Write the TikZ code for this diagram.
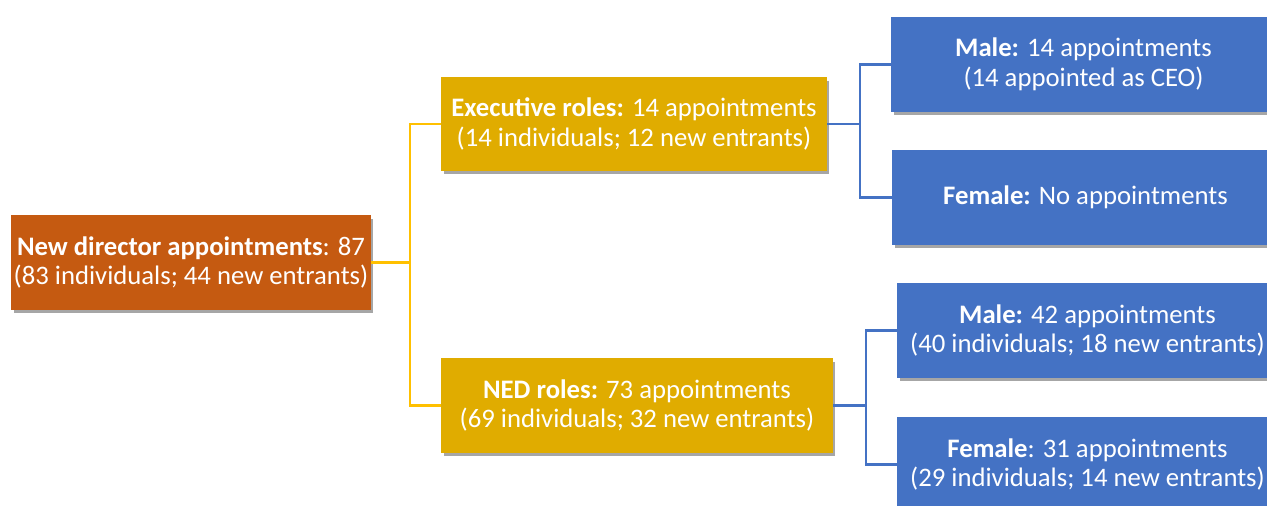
\documentclass[tikz,border=0pt]{standalone}
\usepackage{fontspec}
\setmainfont{Carlito}
\usetikzlibrary{shadows}

\definecolor{rootfill}{HTML}{C55A11}
\definecolor{rolefill}{HTML}{E0AC00}
\definecolor{rolewire}{HTML}{FFC000}
\definecolor{sexfill}{HTML}{4472C4}

\tikzset{
  box/.style={rectangle, inner sep=0pt, align=center, text=white,
    font=\fontsize{15.2}{17}\selectfont,
    drop shadow={shadow xshift=0.05cm, shadow yshift=-0.07cm, opacity=0.35, fill=black}},
  rootbox/.style={box, fill=rootfill},
  rolebox/.style={box, fill=rolefill},
  sexbox/.style={box, fill=sexfill},
  wire/.style={line width=1.3pt},
}

\begin{document}
\begin{tikzpicture}[x=0.02cm, y=-0.02cm]
  \useasboundingbox (0,0) rectangle (1267,506);

  \node[rootbox, minimum width=7.2cm, minimum height=1.9cm] (total) at (191,262.5)
    {\textbf{New director appointments}: 87\\(83 individuals; 44 new entrants)};

  \node[rolebox, minimum width=7.72cm, minimum height=1.88cm] (exec) at (634,124)
    {\textbf{Executive roles:} 14 appointments\\(14 individuals; 12 new entrants)};
  \node[rolebox, minimum width=7.84cm, minimum height=1.9cm] (ned) at (637,405.5)
    {\textbf{NED roles:} 73 appointments\\(69 individuals; 32 new entrants)};

  \node[sexbox, minimum width=7.7cm, minimum height=1.9cm] (execm) at (1083.5,64.5)
    {\textbf{Male:} 14 appointments\\(14 appointed as CEO)};
  \node[sexbox, minimum width=7.74cm, minimum height=1.9cm] (execf) at (1085.5,197.5)
    {\textbf{Female:} No appointments};
  \node[sexbox, minimum width=7.62cm, minimum height=1.9cm] (nedm) at (1087.5,330.5)
    {\textbf{Male:} 42 appointments\\(40 individuals; 18 new entrants)};
  \node[sexbox, minimum width=7.62cm, minimum height=1.9cm] (nedf) at (1087.5,464.5)
    {\textbf{Female}: 31 appointments\\(29 individuals; 14 new entrants)};

  % elbow connectors
  \draw[wire, rolewire] (total.east) -- ++(39,0) |- (exec.west);
  \draw[wire, rolewire] (total.east) -- ++(39,0) |- (ned.west);
  \draw[wire, sexfill] (exec.east) -- ++(33,0) |- (execm.west);
  \draw[wire, sexfill] (exec.east) -- ++(33,0) |- (execf.west);
  \draw[wire, sexfill] (ned.east) -- ++(33,0) |- (nedm.west);
  \draw[wire, sexfill] (ned.east) -- ++(33,0) |- (nedf.west);
\end{tikzpicture}
\end{document}
